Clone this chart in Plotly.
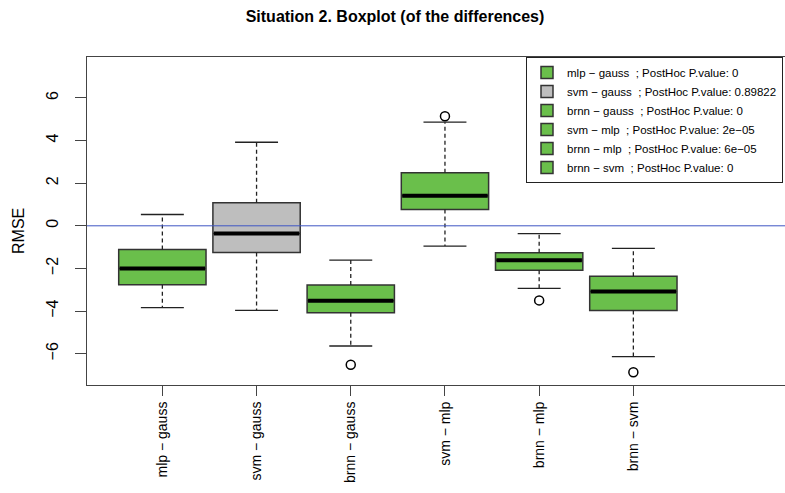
import plotly.graph_objects as go

# ---- data ----
categories = ["mlp − gauss", "svm − gauss", "brnn − gauss", "svm − mlp", "brnn − mlp", "brnn − svm"]
p_values = ["0", "0.89822", "0", "2e−05", "6e−05", "0"]
lower_whisker = [-3.84, -3.97, -5.64, -0.95, -2.94, -6.14]
q1 = [-2.77, -1.25, -4.08, 0.77, -2.08, -3.98]
median = [-2.00, -0.36, -3.52, 1.41, -1.62, -3.08]
q3 = [-1.11, 1.08, -2.78, 2.49, -1.26, -2.37]
upper_whisker = [0.53, 3.92, -1.61, 4.86, -0.37, -1.06]
outliers = [[], [], [-6.52], [5.14], [-3.50], [-6.87]]
significant = [True, False, True, True, True, True]
y_ticks = [-6, -4, -2, 0, 2, 4, 6]

# ---- styles ----
GREEN = "#6abf4b"
GRAY = "#bebebe"
EDGE = "#333333"
FONT = "Liberation Sans, Arial, Helvetica, sans-serif"
BOX_W = 0.927
CAP_HALF = 0.228

W, H = 785, 493
ML, MT, MR = 87, 57, 0
PLOT_BOTTOM = 385
MB = H - PLOT_BOTTOM
PW = W - ML - MR
PH = PLOT_BOTTOM - MT

fig = go.Figure()
positions = list(range(1, len(categories) + 1))

for i, pos in enumerate(positions):
    fig.add_trace(go.Scatter(
        x=[pos, pos, None, pos, pos],
        y=[q3[i], upper_whisker[i], None, q1[i], lower_whisker[i]],
        mode="lines", line=dict(color="#222222", width=1.3, dash="4px,3px"),
        showlegend=False, hoverinfo="skip"))
    fig.add_trace(go.Scatter(
        x=[pos - CAP_HALF, pos + CAP_HALF, None, pos - CAP_HALF, pos + CAP_HALF],
        y=[upper_whisker[i], upper_whisker[i], None, lower_whisker[i], lower_whisker[i]],
        mode="lines", line=dict(color="#222222", width=1.3),
        showlegend=False, hoverinfo="skip"))

for i, pos in enumerate(positions):
    fig.add_trace(go.Box(
        x=[pos], q1=[q1[i]], median=[median[i]], q3=[q3[i]],
        lowerfence=[q1[i]], upperfence=[q3[i]],
        width=BOX_W, whiskerwidth=0, boxpoints=False,
        fillcolor=GREEN if significant[i] else GRAY,
        line=dict(color=EDGE, width=1.5),
        name=f"{categories[i]}  ; PostHoc P.value: {p_values[i]}",
        showlegend=True, hoverinfo="skip"))

for i, pos in enumerate(positions):
    fig.add_trace(go.Scatter(
        x=[pos - BOX_W / 2 + 0.01, pos + BOX_W / 2 - 0.01], y=[median[i], median[i]],
        mode="lines", line=dict(color="black", width=4),
        showlegend=False, hoverinfo="skip"))
    if outliers[i]:
        fig.add_trace(go.Scatter(
            x=[pos] * len(outliers[i]), y=outliers[i], mode="markers",
            marker=dict(symbol="circle-open", size=9, color="black", line=dict(width=1.5)),
            showlegend=False, hoverinfo="skip"))

fig.add_shape(type="line", xref="paper", x0=0, x1=1, yref="y", y0=0, y1=0,
              line=dict(color="#3f56c4", width=1), layer="above")

fig.update_layout(
    width=W, height=H,
    margin=dict(l=ML, r=MR, t=MT, b=MB, autoexpand=False),
    paper_bgcolor="white", plot_bgcolor="white",
    font=dict(family=FONT, color="black"),
    hovermode=False,
    title=dict(text="<b>Situation 2. Boxplot (of the differences)</b>",
               x=395 / W, xanchor="center", xref="container",
               y=1 - 16 / H, yanchor="middle", yref="container",
               font=dict(size=16, family=FONT, color="black")),
    showlegend=True,
    legend=dict(x=(783 - ML) / PW, xanchor="right", y=1, yanchor="top",
                bgcolor="white", bordercolor="#222222", borderwidth=1,
                font=dict(size=11.5, family=FONT, color="black"),
                tracegroupgap=0, itemwidth=30),
    xaxis=dict(range=[0.2, 0.2 + PW / 94.2], tickvals=positions, ticktext=categories,
               tickangle=-90, ticks="outside", ticklen=10, tickcolor="#444444",
               showline=True, linecolor="#444444", linewidth=1, mirror=True,
               showgrid=False, zeroline=False, automargin=False,
               tickfont=dict(size=14, family=FONT, color="black")),
    yaxis=dict(range=[-7.47, 7.92], tickvals=y_ticks,
               ticktext=[("−" + str(abs(v))) if v < 0 else str(v) for v in y_ticks],
               tickangle=-90, ticks="outside", ticklen=11, tickcolor="#444444",
               showline=True, linecolor="#444444", linewidth=1, mirror=False,
               showgrid=False, zeroline=False, ticklabelstandoff=11, automargin=False,
               tickfont=dict(size=16, family=FONT, color="black")),
    annotations=[dict(text="RMSE", xref="paper", yref="paper",
                      x=(18 - ML) / PW, y=1 - (231 - MT) / PH,
                      xanchor="center", yanchor="middle", textangle=-90,
                      showarrow=False, font=dict(size=16, family=FONT, color="black"))],
)

fig.write_html(
    "out.html",
    config={"displayModeBar": False},
    post_script="document.body.style.margin='0';document.documentElement.style.overflow='hidden';",
)
